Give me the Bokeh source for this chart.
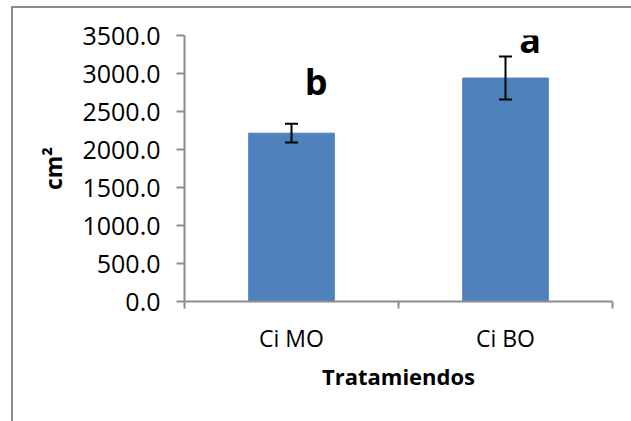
from bokeh.plotting import figure
from bokeh.models import (ColumnDataSource, FixedTicker, NumeralTickFormatter, Range1d,
                          Whisker, TeeHead)
from bokeh.core.properties import value
from bokeh.embed import file_html
from bokeh.resources import INLINE

# ---- data ----
categories = ["Ci MO", "Ci BO"]
means = [2215.0, 2940.0]
errors = [123.0, 283.0]
letters = ["b", "a"]
y_ticks = [0, 500, 1000, 1500, 2000, 2500, 3000, 3500]
y_max = 3500

# significance-letter placement (annotation positions)
letter_dx = 0.115
letter_y = [2895.0, 3445.0]

FONT = "Open Sans"
AXIS_GREY = "#8c8c8c"
BAR_BLUE = "#4F81BD"

x = [i + 0.5 for i in range(len(categories))]
src = ColumnDataSource(dict(
    x=x, top=means,
    upper=[m + e for m, e in zip(means, errors)],
    lower=[m - e for m, e in zip(means, errors)],
))

p = figure(width=631, height=421, output_backend="svg", toolbar_location=None,
           x_range=Range1d(0, len(categories)), y_range=Range1d(0, y_max),
           min_border_left=184, min_border_right=19, min_border_top=35,
           min_border_bottom=120)
p.outline_line_color = None
p.xgrid.visible = False
p.ygrid.visible = False
p.border_fill_color = None
p.background_fill_color = "white"
# outer chart-area border (left and top edges; right/bottom are outside the window)
p.styles = {
    "background": ("linear-gradient(#8c8c8c,#8c8c8c) 11px 6px / 2px 100% no-repeat, "
                   "linear-gradient(#8c8c8c,#8c8c8c) 11px 6px / 100% 2px no-repeat, white"),
}

p.vbar(x="x", top="top", width=0.4, source=src,
       fill_color=BAR_BLUE, line_color=BAR_BLUE)

wh = Whisker(base="x", upper="upper", lower="lower", source=src,
             line_color="black", line_width=2, level="overlay",
             upper_head=TeeHead(size=13, line_color="black", line_width=2),
             lower_head=TeeHead(size=13, line_color="black", line_width=2))
p.add_layout(wh)

p.text(x=[xi + letter_dx for xi in x], y=letter_y, text=letters,
       text_font=value(FONT), text_font_style="bold", text_font_size="36px",
       text_align="center", text_baseline="alphabetic", text_color="black")

# x axis: labels at category centres, ticks at category boundaries
xa = p.xaxis[0]
xa.ticker = FixedTicker(ticks=x, minor_ticks=list(range(len(categories) + 1)))
xa.major_label_overrides = {xi: c for xi, c in zip(x, categories)}
xa.major_tick_out = 0
xa.major_tick_in = 0
xa.minor_tick_out = 7
xa.minor_tick_in = 0
xa.minor_tick_line_color = AXIS_GREY
xa.minor_tick_line_width = 2
xa.axis_line_color = AXIS_GREY
xa.axis_line_width = 2
xa.major_label_text_font = FONT
xa.major_label_text_font_size = "23px"
xa.major_label_text_color = "black"
xa.major_label_standoff = 13
xa.axis_label = "Tratamiendos"
xa.axis_label_text_font = FONT
xa.axis_label_text_font_style = "bold"
xa.axis_label_text_font_size = "22px"
xa.axis_label_text_color = "black"
xa.axis_label_standoff = 4

ya = p.yaxis[0]
ya.ticker = FixedTicker(ticks=y_ticks, minor_ticks=[])
ya.formatter = NumeralTickFormatter(format="0.0")
ya.major_tick_out = 8
ya.major_tick_in = 0
ya.major_tick_line_color = AXIS_GREY
ya.major_tick_line_width = 2
ya.axis_line_color = AXIS_GREY
ya.axis_line_width = 2
ya.major_label_text_font = FONT
ya.major_label_text_font_size = "25px"
ya.major_label_text_color = "black"
ya.major_label_standoff = 16
ya.axis_label = "cm²"
ya.axis_label_text_font = FONT
ya.axis_label_text_font_style = "bold"
ya.axis_label_text_font_size = "23px"
ya.axis_label_text_color = "black"
ya.axis_label_standoff = 10

open("out.html", "w").write(file_html(p, INLINE))
